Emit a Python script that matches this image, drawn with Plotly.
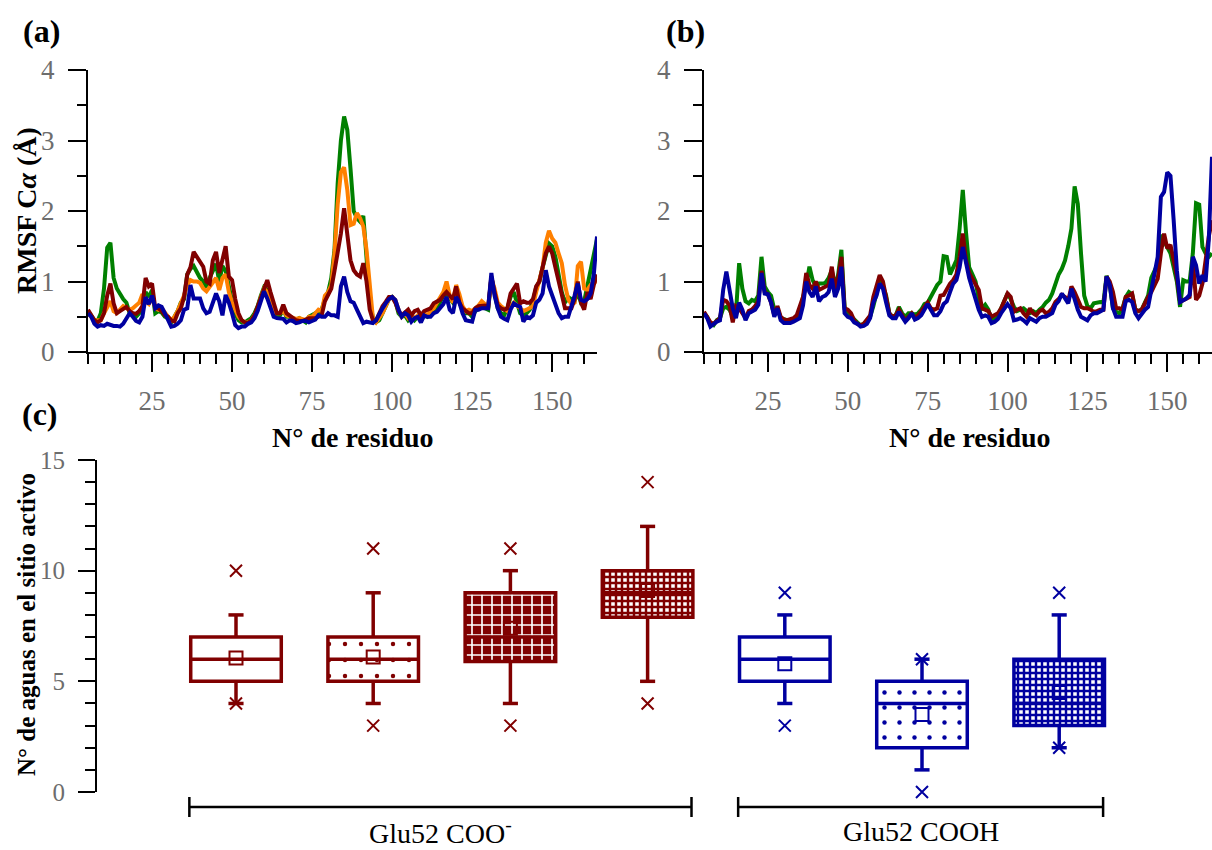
import plotly.graph_objects as go

W, H = 1212, 850

# ---------------------------------------------------------------- RMSF data
residues = list(range(5, 165))

rmsf_a_green = [
    0.58, 0.52, 0.45, 0.44, 0.55, 0.90, 1.48, 1.55, 1.05, 0.90,
    0.82, 0.75, 0.70, 0.55, 0.52, 0.50, 0.55, 0.62, 0.85, 0.78,
    0.88, 0.55, 0.58, 0.56, 0.50, 0.48, 0.42, 0.50, 0.58, 0.70,
    0.75, 1.10, 1.18, 1.22, 1.12, 1.05, 1.00, 0.92, 1.05, 1.15,
    1.25, 1.00, 1.22, 1.15, 0.92, 0.72, 0.55, 0.45, 0.42, 0.42,
    0.45, 0.48, 0.55, 0.65, 0.80, 0.92, 0.88, 0.72, 0.58, 0.52,
    0.52, 0.60, 0.50, 0.50, 0.48, 0.45, 0.48, 0.45, 0.42, 0.50,
    0.52, 0.55, 0.55, 0.60, 0.75, 0.85, 1.05, 1.45, 2.40, 3.00,
    3.34, 3.15, 2.60, 2.00, 1.90, 1.85, 1.93, 1.30, 0.75, 0.48,
    0.42, 0.45, 0.55, 0.65, 0.75, 0.78, 0.72, 0.55, 0.50, 0.52,
    0.45, 0.50, 0.45, 0.50, 0.48, 0.52, 0.50, 0.55, 0.60, 0.62,
    0.70, 0.80, 0.82, 0.75, 0.70, 0.80, 0.72, 0.60, 0.55, 0.55,
    0.50, 0.58, 0.62, 0.65, 0.62, 0.60, 1.05, 0.85, 0.62, 0.55,
    0.52, 0.62, 0.78, 0.85, 0.70, 0.55, 0.52, 0.55, 0.60, 0.72,
    0.92, 1.00, 1.20, 1.40, 1.54, 1.50, 1.35, 1.10, 0.85, 0.70,
    0.78, 0.75, 0.72, 0.85, 0.70, 0.72, 0.95, 1.15, 1.35, 1.60,
]
rmsf_a_orange = [
    0.55, 0.50, 0.45, 0.45, 0.45, 0.55, 0.65, 0.72, 0.58, 0.55,
    0.60, 0.65, 0.62, 0.60, 0.62, 0.66, 0.70, 0.82, 0.72, 0.68,
    0.78, 0.62, 0.60, 0.62, 0.55, 0.50, 0.45, 0.50, 0.58, 0.68,
    0.80, 0.95, 1.02, 1.00, 1.00, 0.98, 0.90, 0.86, 0.92, 0.98,
    1.05, 0.88, 1.05, 1.10, 0.85, 0.70, 0.60, 0.50, 0.45, 0.42,
    0.42, 0.45, 0.52, 0.62, 0.78, 0.90, 0.85, 0.72, 0.58, 0.55,
    0.55, 0.58, 0.52, 0.50, 0.48, 0.47, 0.48, 0.46, 0.45, 0.50,
    0.50, 0.55, 0.60, 0.58, 0.80, 0.85, 0.95, 1.40, 2.10, 2.55,
    2.62, 2.30, 1.80, 1.82, 1.97, 1.90, 1.78, 1.45, 0.93, 0.48,
    0.42, 0.48, 0.55, 0.65, 0.75, 0.78, 0.74, 0.60, 0.50, 0.55,
    0.48, 0.52, 0.48, 0.52, 0.50, 0.55, 0.52, 0.58, 0.62, 0.70,
    0.78, 0.85, 1.00, 0.80, 0.70, 0.95, 0.82, 0.65, 0.58, 0.60,
    0.58, 0.62, 0.66, 0.72, 0.68, 0.62, 1.05, 0.90, 0.70, 0.65,
    0.62, 0.58, 0.65, 0.70, 0.66, 0.62, 0.58, 0.60, 0.62, 0.65,
    0.85, 1.00, 1.19, 1.55, 1.72, 1.61, 1.55, 1.40, 1.26, 0.95,
    0.75, 0.68, 0.70, 1.22, 1.28, 0.90, 0.88, 0.95, 1.00, 1.00,
]
rmsf_a_darkred = [
    0.60, 0.52, 0.45, 0.42, 0.45, 0.55, 0.80, 0.97, 0.69, 0.55,
    0.58, 0.62, 0.64, 0.58, 0.55, 0.54, 0.58, 0.65, 1.05, 0.93,
    0.97, 0.62, 0.62, 0.58, 0.52, 0.50, 0.45, 0.43, 0.55, 0.62,
    0.78, 1.10, 1.20, 1.42, 1.35, 1.26, 1.21, 1.00, 0.97, 1.30,
    1.42, 1.12, 1.30, 1.50, 1.07, 1.02, 0.75, 0.55, 0.45, 0.42,
    0.41, 0.45, 0.52, 0.64, 0.80, 0.90, 1.02, 0.85, 0.68, 0.55,
    0.55, 0.67, 0.55, 0.52, 0.48, 0.45, 0.44, 0.44, 0.46, 0.48,
    0.48, 0.48, 0.50, 0.52, 0.72, 0.82, 0.90, 1.15, 1.40, 1.68,
    2.04, 1.65, 1.30, 1.16, 1.10, 1.07, 1.26, 1.00, 0.60, 0.45,
    0.45, 0.55, 0.65, 0.71, 0.78, 0.78, 0.70, 0.58, 0.52, 0.56,
    0.60, 0.52, 0.58, 0.60, 0.52, 0.58, 0.60, 0.62, 0.69, 0.72,
    0.74, 0.80, 0.85, 0.80, 0.75, 0.93, 0.70, 0.62, 0.58, 0.55,
    0.55, 0.62, 0.65, 0.65, 0.66, 0.64, 1.07, 0.85, 0.66, 0.62,
    0.60, 0.62, 0.83, 0.90, 0.97, 0.69, 0.72, 0.70, 0.70, 0.75,
    0.93, 1.00, 1.21, 1.40, 1.50, 1.40, 1.20, 1.00, 0.80, 0.62,
    0.62, 0.62, 0.75, 1.00, 0.70, 0.60, 0.85, 0.75, 0.95, 1.10,
]
rmsf_a_blue = [
    0.55, 0.50, 0.40, 0.36, 0.38, 0.37, 0.40, 0.38, 0.37, 0.37,
    0.36, 0.40, 0.48, 0.55, 0.50, 0.44, 0.42, 0.50, 0.78, 0.68,
    0.80, 0.62, 0.66, 0.64, 0.55, 0.45, 0.36, 0.37, 0.40, 0.45,
    0.60, 0.62, 0.95, 0.76, 0.76, 0.76, 0.62, 0.55, 0.57, 0.72,
    0.83, 0.72, 0.52, 0.81, 0.70, 0.55, 0.38, 0.34, 0.36, 0.36,
    0.40, 0.42, 0.48, 0.58, 0.72, 0.86, 0.76, 0.62, 0.50, 0.48,
    0.48, 0.47, 0.42, 0.45, 0.44, 0.41, 0.42, 0.44, 0.44, 0.42,
    0.44, 0.46, 0.52, 0.50, 0.50, 0.55, 0.52, 0.52, 0.50, 0.93,
    1.07, 0.85, 0.72, 0.70, 0.60, 0.50, 0.41, 0.43, 0.42, 0.41,
    0.45, 0.55, 0.62, 0.69, 0.75, 0.78, 0.74, 0.60, 0.50, 0.55,
    0.52, 0.43, 0.48, 0.50, 0.42, 0.52, 0.50, 0.50, 0.55, 0.57,
    0.62, 0.68, 0.78, 0.60, 0.55, 0.78, 0.70, 0.55, 0.45, 0.44,
    0.43, 0.60, 0.60, 0.62, 0.62, 0.62, 1.12, 0.80, 0.62, 0.50,
    0.47, 0.45, 0.60, 0.69, 0.66, 0.64, 0.43, 0.50, 0.48, 0.52,
    0.70, 0.74, 0.83, 1.16, 0.93, 0.80, 0.69, 0.55, 0.48, 0.50,
    0.50, 0.64, 0.80, 0.97, 0.74, 0.72, 0.75, 0.83, 1.10, 1.64,
]

rmsf_b_green = [
    0.55, 0.50, 0.40, 0.38, 0.45, 0.48, 0.62, 0.64, 0.60, 0.50,
    0.55, 1.26, 0.90, 0.72, 0.69, 0.74, 0.72, 0.80, 1.35, 0.93,
    0.85, 0.80, 0.60, 0.62, 0.48, 0.46, 0.45, 0.45, 0.46, 0.50,
    0.55, 0.78, 0.95, 1.21, 1.02, 0.93, 0.97, 0.97, 0.98, 1.05,
    1.16, 0.93, 1.10, 1.45, 0.64, 0.55, 0.50, 0.45, 0.42, 0.38,
    0.40, 0.45, 0.50, 0.65, 0.83, 1.07, 0.95, 0.80, 0.55, 0.50,
    0.52, 0.64, 0.55, 0.50, 0.55, 0.55, 0.53, 0.55, 0.60, 0.68,
    0.70, 0.78, 0.88, 0.95, 1.00, 1.36, 1.35, 1.10, 1.20, 1.30,
    1.75, 2.30, 1.70, 1.20, 1.10, 1.00, 0.75, 0.62, 0.67, 0.60,
    0.45, 0.48, 0.52, 0.62, 0.74, 0.83, 0.75, 0.64, 0.58, 0.60,
    0.62, 0.58, 0.55, 0.58, 0.55, 0.60, 0.64, 0.70, 0.74, 0.83,
    0.97, 1.10, 1.18, 1.30, 1.50, 1.75, 2.35, 2.10, 1.40, 0.80,
    0.65, 0.62, 0.69, 0.70, 0.71, 0.70, 1.08, 0.95, 0.62, 0.57,
    0.55, 0.62, 0.78, 0.85, 0.82, 0.60, 0.58, 0.60, 0.70, 0.80,
    1.05, 1.14, 1.25, 1.66, 1.58, 1.50, 1.40, 1.20, 1.00, 0.64,
    1.02, 1.00, 1.00, 1.40, 2.11, 2.09, 1.49, 1.40, 1.35, 1.40,
]
rmsf_b_darkred = [
    0.57, 0.50, 0.42, 0.40, 0.45, 0.48, 0.74, 0.72, 0.66, 0.42,
    0.65, 0.62, 0.55, 0.48, 0.58, 0.60, 0.65, 0.72, 1.15, 0.85,
    0.82, 0.70, 0.52, 0.65, 0.50, 0.46, 0.45, 0.46, 0.48, 0.52,
    0.65, 0.78, 1.12, 0.95, 0.90, 1.00, 0.88, 0.90, 0.92, 0.95,
    1.21, 0.90, 1.05, 1.35, 0.62, 0.60, 0.55, 0.45, 0.40, 0.38,
    0.40, 0.45, 0.52, 0.78, 0.95, 1.09, 1.00, 0.80, 0.55, 0.50,
    0.52, 0.60, 0.52, 0.45, 0.50, 0.55, 0.48, 0.52, 0.58, 0.65,
    0.70, 0.62, 0.60, 0.62, 0.80, 0.81, 0.90, 0.97, 1.02, 1.10,
    1.35, 1.68, 1.30, 1.12, 1.04, 0.95, 0.88, 0.62, 0.60, 0.58,
    0.50, 0.52, 0.55, 0.62, 0.71, 0.83, 0.78, 0.57, 0.60, 0.62,
    0.55, 0.50, 0.62, 0.55, 0.52, 0.58, 0.60, 0.55, 0.57, 0.62,
    0.71, 0.75, 0.81, 0.78, 0.72, 0.93, 0.85, 0.76, 0.64, 0.62,
    0.62, 0.60, 0.57, 0.58, 0.60, 0.60, 1.07, 1.00, 0.85, 0.62,
    0.62, 0.60, 0.78, 0.80, 0.83, 0.60, 0.58, 0.60, 0.70, 0.78,
    0.85, 0.95, 1.04, 1.40, 1.68, 1.47, 1.52, 1.30, 1.07, 0.71,
    0.73, 0.76, 0.78, 1.30, 0.74, 0.80, 0.97, 1.30, 1.64, 1.87,
]
rmsf_b_blue = [
    0.55, 0.48, 0.36, 0.40, 0.43, 0.45, 0.88, 1.14, 0.85, 0.62,
    0.48, 0.70, 0.60, 0.45, 0.55, 0.57, 0.60, 0.67, 1.12, 0.83,
    0.82, 0.70, 0.50, 0.62, 0.45, 0.41, 0.41, 0.41, 0.43, 0.45,
    0.48, 0.66, 1.00, 0.85, 0.78, 0.93, 0.72, 0.78, 0.80, 0.85,
    1.04, 0.78, 0.90, 1.21, 0.55, 0.50, 0.48, 0.42, 0.40, 0.36,
    0.37, 0.40, 0.48, 0.70, 0.80, 0.97, 0.90, 0.70, 0.52, 0.48,
    0.48, 0.57, 0.50, 0.43, 0.48, 0.55, 0.46, 0.48, 0.52, 0.60,
    0.68, 0.60, 0.52, 0.52, 0.58, 0.68, 0.72, 0.85, 0.97, 1.02,
    1.20, 1.49, 1.25, 1.05, 0.90, 0.75, 0.60, 0.50, 0.52, 0.50,
    0.41, 0.43, 0.47, 0.55, 0.62, 0.68, 0.62, 0.45, 0.46, 0.48,
    0.45, 0.41, 0.48, 0.45, 0.43, 0.48, 0.50, 0.50, 0.52, 0.55,
    0.67, 0.72, 0.83, 0.75, 0.69, 0.90, 0.75, 0.60, 0.50, 0.48,
    0.45, 0.52, 0.55, 0.55, 0.58, 0.60, 1.07, 0.95, 0.62, 0.50,
    0.50, 0.50, 0.72, 0.74, 0.71, 0.55, 0.48, 0.55, 0.60, 0.64,
    0.90, 1.15, 1.35, 2.20, 2.27, 2.55, 2.50, 1.87, 1.16, 0.71,
    0.73, 0.76, 0.81, 1.35, 1.23, 0.97, 1.09, 1.00, 1.60, 2.77,
]

# ------------------------------------------- active-site water statistics
group_names = ["Glu52 COO<sup>-</sup>", "Glu52 COOH"]
group_sizes = [4, 3]
water_q1 = [5, 5, 5.9, 7.9, 5, 2, 3]
water_median = [6, 6, 7, 9, 6, 4, 4]
water_q3 = [7, 7, 9, 10, 7, 5, 6]
water_whisker_low = [4, 4, 4, 5, 4, 1, 2]
water_whisker_high = [8, 9, 10, 12, 8, 6, 8]
water_mean = [6.05, 6.1, 7.4, 9.1, 5.8, 3.5, 4.5]
water_p01 = [4, 3, 3, 4, 3, 0, 2]
water_p99 = [10, 11, 11, 14, 9, 6, 9]

# ------------------------------------------------------------------ style
SERIF = "Liberation Serif"
GREY = "#6d6d6d"
GREEN = "#008000"
ORANGE = "#FF8000"
DARK_RED = "#800000"
DARK_BLUE = "#0000A0"
LINE_W = 4


def fx(px):
    return px / W


def fy(py):
    return 1 - py / H


fig = go.Figure()

# (a) and (b): RMSF per residue
for ys, col in [(rmsf_a_green, GREEN), (rmsf_a_orange, ORANGE),
                (rmsf_a_darkred, DARK_RED), (rmsf_a_blue, DARK_BLUE)]:
    fig.add_trace(go.Scatter(x=residues, y=ys, mode="lines",
                             line=dict(color=col, width=LINE_W),
                             xaxis="x", yaxis="y", showlegend=False))
for ys, col in [(rmsf_b_green, GREEN), (rmsf_b_darkred, DARK_RED),
                (rmsf_b_blue, DARK_BLUE)]:
    fig.add_trace(go.Scatter(x=residues, y=ys, mode="lines",
                             line=dict(color=col, width=LINE_W),
                             xaxis="x2", yaxis="y2", showlegend=False))

# (c): box charts drawn from the summary statistics
box_colors = [DARK_RED] * group_sizes[0] + [DARK_BLUE] * group_sizes[1]
box_pos = list(range(len(water_q1)))
box_width = 0.66
cap_half = 0.055
box_patterns = [
    dict(shape=""),
    dict(shape=".", size=16, solidity=0.06, fgcolor=DARK_RED, bgcolor="white"),
    dict(shape="+", size=10, solidity=0.3, fgcolor="white", bgcolor=DARK_RED),
    dict(shape="+", size=6, solidity=0.65, fgcolor=DARK_RED, bgcolor="white"),
    dict(shape=""),
    dict(shape=".", size=15, solidity=0.07, fgcolor=DARK_BLUE, bgcolor="white"),
    dict(shape="+", size=6, solidity=0.65, fgcolor=DARK_BLUE, bgcolor="white"),
]

for i, p in enumerate(box_pos):
    col = box_colors[i]
    fig.add_trace(go.Bar(
        x=[p], y=[water_q3[i] - water_q1[i]], base=[water_q1[i]],
        width=box_width, xaxis="x3", yaxis="y3", showlegend=False,
        marker=dict(color="white", line=dict(color=col, width=3.5),
                    pattern=box_patterns[i]),
    ))

for col in (DARK_RED, DARK_BLUE):
    xs, ys = [], []
    for i, p in enumerate(box_pos):
        if box_colors[i] != col:
            continue
        hw = box_width / 2
        xs += [p, p, None, p, p, None]
        ys += [water_q3[i], water_whisker_high[i], None,
               water_q1[i], water_whisker_low[i], None]
        xs += [p - cap_half, p + cap_half, None, p - cap_half, p + cap_half, None]
        ys += [water_whisker_high[i], water_whisker_high[i], None,
               water_whisker_low[i], water_whisker_low[i], None]
        xs += [p - hw, p + hw, None]
        ys += [water_median[i], water_median[i], None]
    fig.add_trace(go.Scatter(x=xs, y=ys, mode="lines",
                             line=dict(color=col, width=3.5),
                             xaxis="x3", yaxis="y3", showlegend=False))

fig.add_trace(go.Scatter(
    x=box_pos, y=water_mean, mode="markers", xaxis="x3", yaxis="y3",
    showlegend=False, cliponaxis=False,
    marker=dict(symbol="square-open", size=13, color=box_colors,
                line=dict(width=2, color=box_colors)),
))
fig.add_trace(go.Scatter(
    x=box_pos + box_pos, y=water_p01 + water_p99, mode="markers",
    xaxis="x3", yaxis="y3", showlegend=False, cliponaxis=False,
    marker=dict(symbol="x-thin-open", size=12, color=box_colors * 2,
                line=dict(width=2, color=box_colors * 2)),
))

# group brackets and labels under (c)
shapes = []
annotations = []
start = 0
for name, n in zip(group_names, group_sizes):
    left = box_pos[start] - 0.34
    right = box_pos[start + n - 1] + 0.32
    shapes.append(dict(type="line", xref="x3", yref="paper",
                       x0=left, x1=right, y0=fy(807), y1=fy(807),
                       line=dict(color="black", width=2.5)))
    for xe in (left, right):
        shapes.append(dict(type="line", xref="x3", yref="paper",
                           x0=xe, x1=xe, y0=fy(797), y1=fy(817),
                           line=dict(color="black", width=2.5)))
    annotations.append(dict(text=name, xref="x3", yref="paper",
                            x=(left + right) / 2, y=fy(831),
                            xanchor="center", yanchor="middle", showarrow=False,
                            font=dict(family=SERIF, size=28, color="black")))
    start += n

# panel letters and axis titles
for txt, x, y in [("(a)", 41, 31), ("(b)", 685, 31), ("(c)", 40, 414)]:
    annotations.append(dict(text=f"<b>{txt}</b>", xref="paper", yref="paper",
                            x=fx(x), y=fy(y), xanchor="center", yanchor="middle",
                            showarrow=False,
                            font=dict(family=SERIF, size=32, color="black")))
for x in (353, 970):
    annotations.append(dict(text="<b>N° de residuo</b>", xref="paper", yref="paper",
                            x=fx(x), y=fy(437), xanchor="center", yanchor="middle",
                            showarrow=False,
                            font=dict(family=SERIF, size=28, color="black")))
annotations.append(dict(text="<b>RMSF C<i>α</i> (Å)</b>", xref="paper", yref="paper",
                        x=fx(26), y=fy(211), textangle=-90,
                        xanchor="center", yanchor="middle", showarrow=False,
                        font=dict(family=SERIF, size=28, color="black")))
annotations.append(dict(text="<b>N° de aguas en el sitio activo</b>",
                        xref="paper", yref="paper", x=fx(26), y=fy(625),
                        textangle=-90, xanchor="center", yanchor="middle",
                        showarrow=False,
                        font=dict(family=SERIF, size=25, color="black")))


def residue_axis(domain_px, anchor):
    return dict(
        domain=[fx(domain_px[0]), fx(domain_px[1])], range=[5, 164],
        anchor=anchor, showline=True, linecolor="black", linewidth=2,
        ticks="outside", ticklen=18, tickwidth=2, tickcolor="black",
        tick0=0, dtick=25, ticklabelstandoff=6,
        minor=dict(ticks="outside", ticklen=10, tickwidth=2, tickcolor="black",
                   tick0=0, dtick=5, showgrid=False),
        showgrid=False, zeroline=False, automargin=False,
        tickfont=dict(family=SERIF, size=27, color=GREY),
    )


def rmsf_axis(anchor):
    return dict(
        domain=[fy(352), fy(70)], range=[0, 4], anchor=anchor,
        showline=True, linecolor="black", linewidth=2,
        ticks="outside", ticklen=18, tickwidth=2, tickcolor="black",
        tick0=0, dtick=1, ticklabelstandoff=8,
        minor=dict(ticks="outside", ticklen=9, tickwidth=2, tickcolor="black",
                   tick0=0, dtick=0.5, showgrid=False),
        showgrid=False, zeroline=False, automargin=False,
        tickfont=dict(family=SERIF, size=27, color=GREY),
    )


xmin_c = -(236 - 97) / 137.2
xmax_c = xmin_c + (W - 97) / 137.2

fig.update_layout(
    width=W, height=H,
    margin=dict(l=0, r=0, t=0, b=0),
    paper_bgcolor="white", plot_bgcolor="white",
    template="none",
    font=dict(family=SERIF),
    barmode="overlay",
    showlegend=False,
    xaxis=residue_axis((88, 597), "y"),
    yaxis=rmsf_axis("x"),
    xaxis2=residue_axis((704, 1212), "y2"),
    yaxis2=rmsf_axis("x2"),
    xaxis3=dict(domain=[fx(97), 1.0], range=[xmin_c, xmax_c], anchor="y3",
                visible=False, automargin=False),
    yaxis3=dict(
        domain=[fy(792), fy(460)], range=[0, 15], anchor="x3",
        showline=True, linecolor="black", linewidth=2,
        ticks="outside", ticklen=17, tickwidth=2, tickcolor="black",
        tick0=0, dtick=5, ticklabelstandoff=8,
        minor=dict(ticks="outside", ticklen=10, tickwidth=2, tickcolor="black",
                   tick0=0, dtick=1, showgrid=False),
        showgrid=False, zeroline=False, automargin=False,
        tickfont=dict(family=SERIF, size=25, color=GREY),
    ),
    shapes=shapes,
    annotations=annotations,
)

fig.write_html("out.html")
